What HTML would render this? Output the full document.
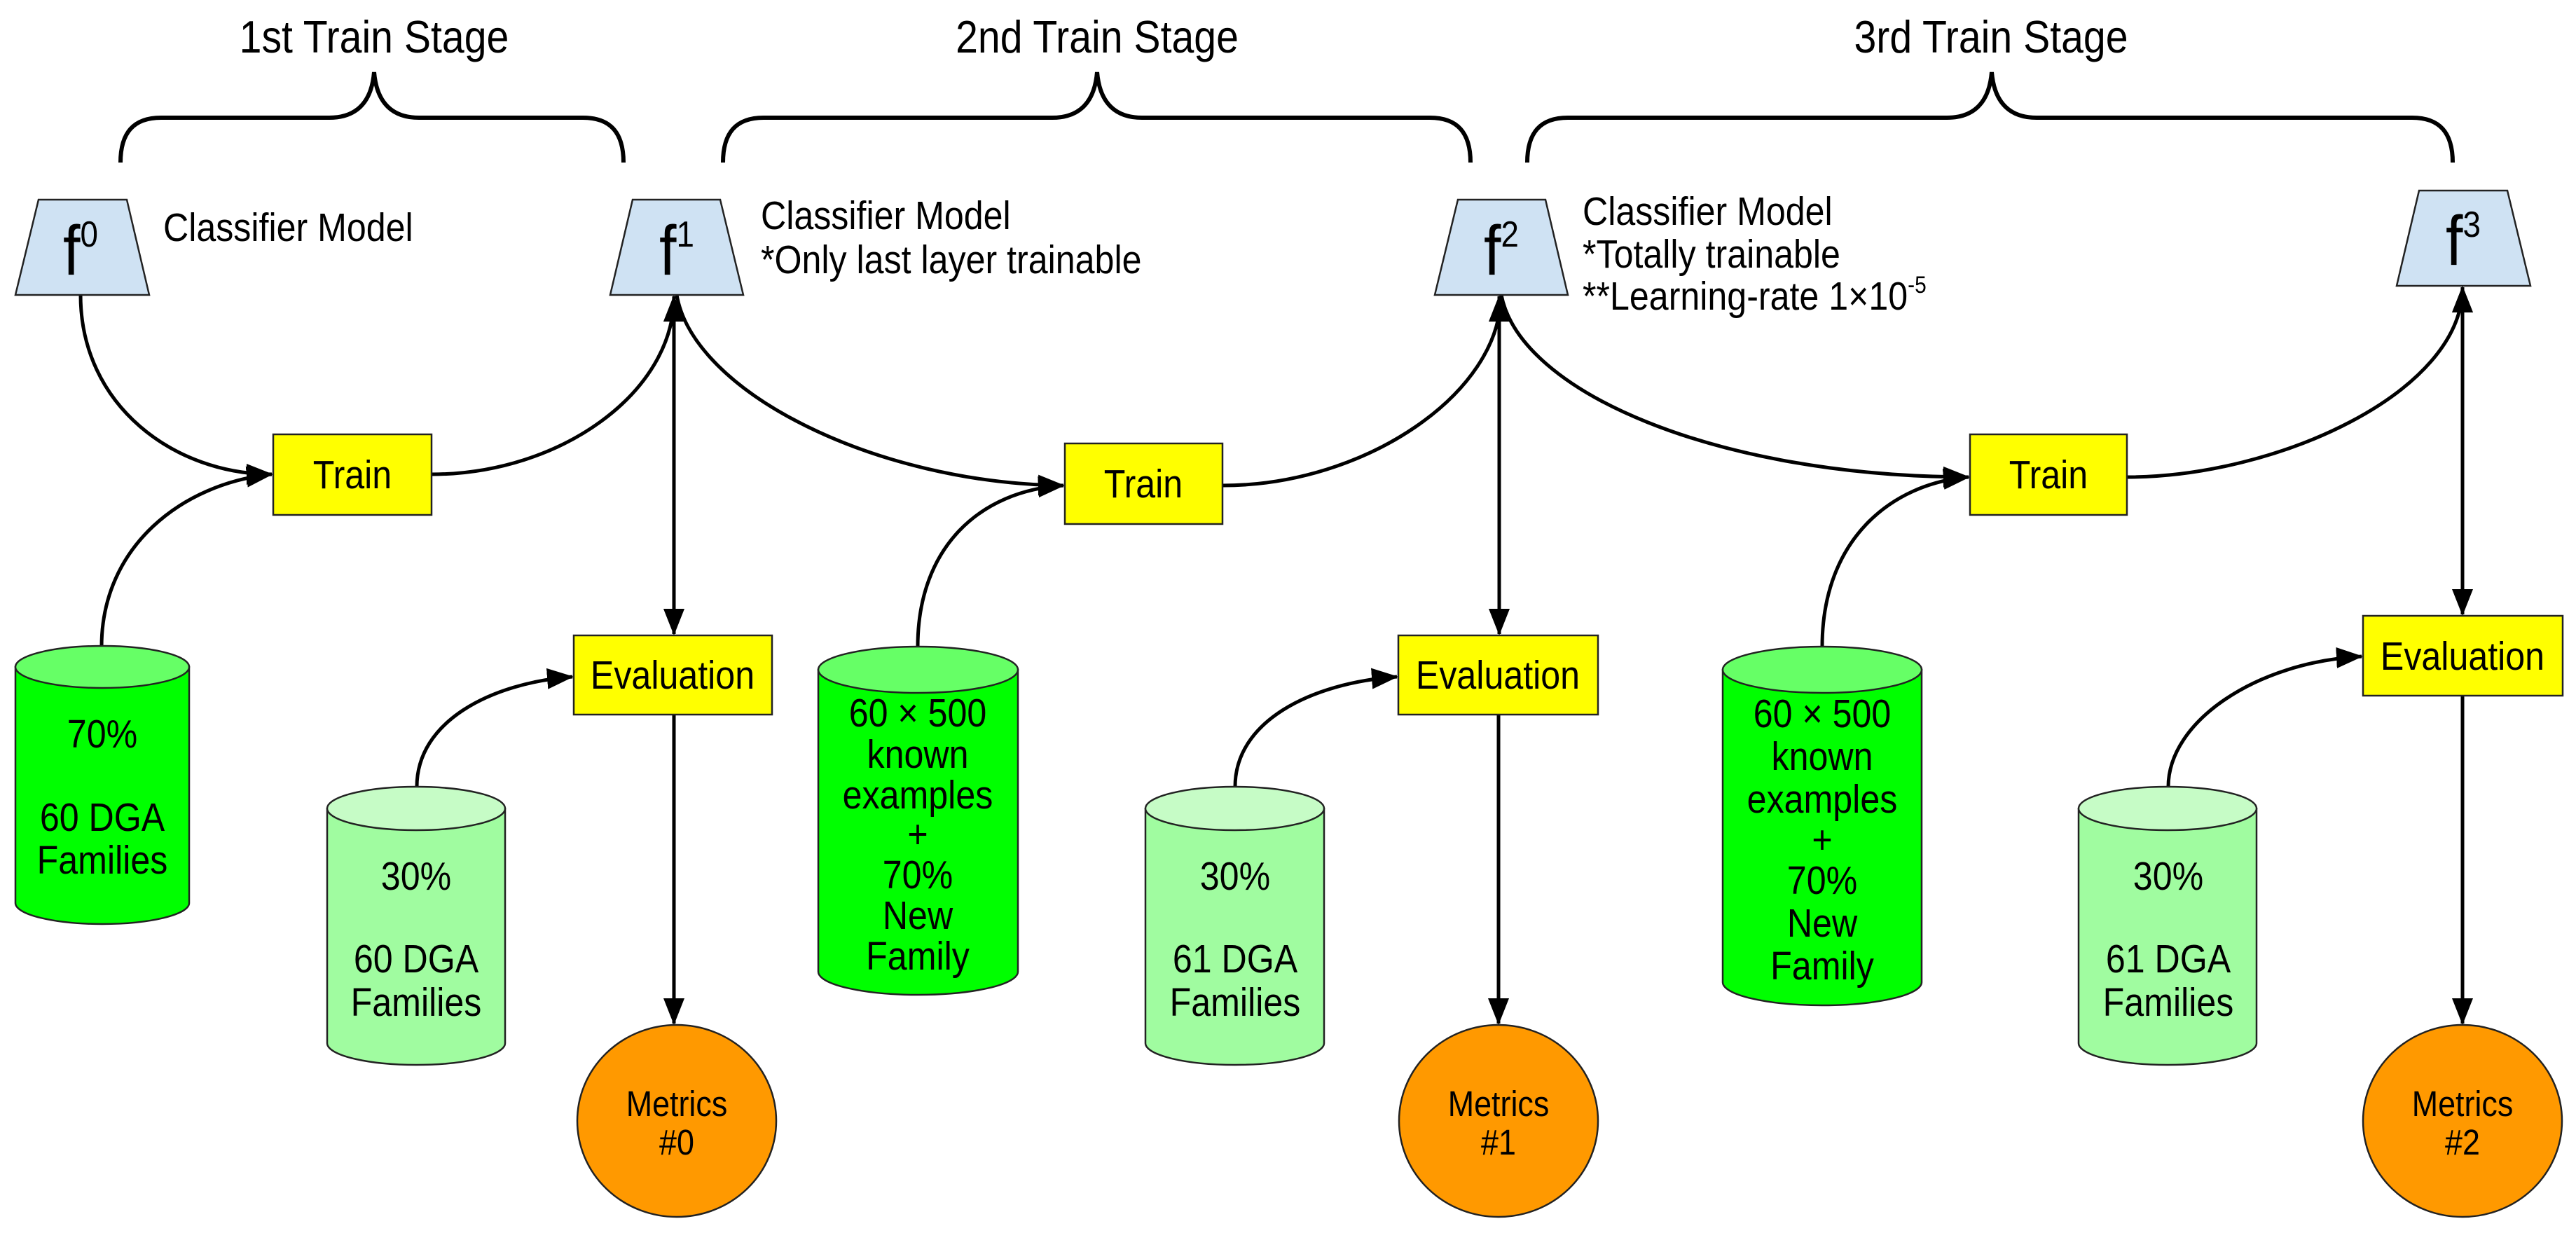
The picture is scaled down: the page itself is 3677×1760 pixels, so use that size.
<!DOCTYPE html>
<html><head><meta charset="utf-8"><style>
html,body{margin:0;padding:0;background:#fff}
svg{display:block}
text{font-family:"Liberation Sans",Arial,sans-serif;fill:#000;transform-box:fill-box}
.c text{transform-origin:center;transform:scaleX(0.88)}
.l text{transform-origin:left;transform:scaleX(0.88)}
</style></head><body>
<svg width="3677" height="1760" viewBox="0 0 3677 1760" xmlns="http://www.w3.org/2000/svg">
<defs>
<marker id="ah" markerUnits="userSpaceOnUse" markerWidth="40" markerHeight="30" refX="36" refY="15" orient="auto-start-reverse">
<path d="M0,0 L38,15 L0,30 Z" fill="#000"/>
</marker>
</defs>
<g fill="none" stroke="#000" stroke-width="6">
<path d="M172,232 C172,190 190,168 230,168 L470,168 C505,168 530,150 534,103 C538,150 563,168 598,168 L832,168 C872,168 890,190 890,232"/>
<path d="M1032,232 C1032,190 1050,168 1090,168 L1502,168 C1537,168 1562,150 1566,103 C1570,150 1595,168 1630,168 L2041,168 C2081,168 2099,190 2099,232"/>
<path d="M2180,232 C2180,190 2198,168 2238,168 L2779,168 C2814,168 2839,150 2843,103 C2847,150 2872,168 2907,168 L3443,168 C3483,168 3501,190 3501,232"/>
</g>
<g fill="none" stroke="#000" stroke-width="5">
<path d="M115,421 C115,580 250,677 388,677" marker-end="url(#ah)"/>
<path d="M616,677 C800,677 962,560 962,423" marker-end="url(#ah)"/>
<path d="M145,923 C145,780 260,690 388,677" marker-end="url(#ah)"/>
<path d="M962,423 L962,905" marker-start="url(#ah)" marker-end="url(#ah)"/>
<path d="M595,1123 C595,1030 700,975 817,966" marker-end="url(#ah)"/>
<path d="M962,1020 L962,1461" marker-end="url(#ah)"/>

<path d="M966,421 C990,560 1250,690 1518,693" marker-end="url(#ah)"/>
<path d="M1745,693 C1950,693 2142,560 2142,423" marker-end="url(#ah)"/>
<path d="M1310,923 C1310,780 1400,700 1518,693" marker-end="url(#ah)"/>
<path d="M2140,423 L2140,905" marker-start="url(#ah)" marker-end="url(#ah)"/>
<path d="M1763,1123 C1763,1030 1870,975 1994,966" marker-end="url(#ah)"/>
<path d="M2139,1020 L2139,1461" marker-end="url(#ah)"/>

<path d="M2143,421 C2170,560 2450,680 2810,681" marker-end="url(#ah)"/>
<path d="M3036,681 C3250,681 3515,560 3515,410" marker-end="url(#ah)"/>
<path d="M2601,923 C2601,770 2700,690 2810,681" marker-end="url(#ah)"/>
<path d="M3515,410 L3515,877" marker-start="url(#ah)" marker-end="url(#ah)"/>
<path d="M3095,1123 C3095,1030 3220,945 3371,937" marker-end="url(#ah)"/>
<path d="M3515,993 L3515,1461" marker-end="url(#ah)"/>
</g>

<g stroke="#222" stroke-width="2.5">
<polygon points="55,285 181,285 213,421 22,421" fill="#cfe2f3"/>
<polygon points="903,285 1028,285 1061,421 871,421" fill="#cfe2f3"/>
<polygon points="2081,285 2206,285 2238,421 2048,421" fill="#cfe2f3"/>
<polygon points="3453,272 3579,272 3612,408 3421,408" fill="#cfe2f3"/>
<rect x="390" y="620" width="226" height="115" fill="#ffff00"/>
<rect x="1520" y="633" width="225" height="115" fill="#ffff00"/>
<rect x="2812" y="620" width="224" height="115" fill="#ffff00"/>
<rect x="819" y="907" width="283" height="113" fill="#ffff00"/>
<rect x="1996" y="907" width="285" height="113" fill="#ffff00"/>
<rect x="3373" y="879" width="285" height="114" fill="#ffff00"/>
<ellipse cx="966" cy="1600" rx="142" ry="137" fill="#ff9900"/>
<ellipse cx="2139" cy="1600" rx="142" ry="137" fill="#ff9900"/>
<ellipse cx="3515" cy="1600" rx="142" ry="137" fill="#ff9900"/>
<path d="M22,952 L22,1289 A124,30 0 0 0 270,1289 L270,952 Z" fill="#00ff00"/>
<ellipse cx="146" cy="952" rx="124" ry="30" fill="#66ff66"/>
<path d="M1168,956 L1168,1387 A142.5,33 0 0 0 1453,1387 L1453,956 Z" fill="#00ff00"/>
<ellipse cx="1310.5" cy="956" rx="142.5" ry="33" fill="#66ff66"/>
<path d="M2459,956 L2459,1402 A142,33 0 0 0 2743,1402 L2743,956 Z" fill="#00ff00"/>
<ellipse cx="2601" cy="956" rx="142" ry="33" fill="#66ff66"/>

<path d="M467,1154 L467,1489 A127,31 0 0 0 721,1489 L721,1154 Z" fill="#a0fca0"/>
<ellipse cx="594" cy="1154" rx="127" ry="31" fill="#c6fcc6"/>
<path d="M1635,1154 L1635,1489 A127.5,31 0 0 0 1890,1489 L1890,1154 Z" fill="#a0fca0"/>
<ellipse cx="1762.5" cy="1154" rx="127.5" ry="31" fill="#c6fcc6"/>
<path d="M2967,1154 L2967,1489 A127,31 0 0 0 3221,1489 L3221,1154 Z" fill="#a0fca0"/>
<ellipse cx="3094" cy="1154" rx="127" ry="31" fill="#c6fcc6"/>
</g>

<g class="c" font-size="65" text-anchor="middle">
<text x="534" y="75">1st Train Stage</text>
<text x="1566" y="75">2nd Train Stage</text>
<text x="2842" y="75">3rd Train Stage</text>
</g>
<g class="c" font-size="100" text-anchor="middle">
<text x="115" y="392">f<tspan font-size="52" dy="-40">0</tspan></text>
<text x="966" y="392">f<tspan font-size="52" dy="-40">1</tspan></text>
<text x="2143" y="392">f<tspan font-size="52" dy="-40">2</tspan></text>
<text x="3516" y="378">f<tspan font-size="52" dy="-40">3</tspan></text>
</g>
<g class="l" font-size="57">
<text x="233" y="344">Classifier Model</text>
<text x="1086" y="327">Classifier Model</text>
<text x="1086" y="390">*Only last layer trainable</text>
<text x="2259" y="321">Classifier Model</text>
<text x="2259" y="382">*Totally trainable</text>
<text x="2259" y="442">**Learning-rate 1×10<tspan font-size="34" dy="-24">-5</tspan></text>
</g>
<g class="c" font-size="57" text-anchor="middle">
<text x="503" y="697">Train</text>
<text x="1632" y="710">Train</text>
<text x="2924" y="697">Train</text>
<text x="960" y="983">Evaluation</text>
<text x="2138" y="983">Evaluation</text>
<text x="3515" y="956">Evaluation</text>

<text x="146" y="1067">70%</text>
<text x="146" y="1186">60 DGA</text>
<text x="146" y="1247">Families</text>

<text x="594" y="1270">30%</text>
<text x="594" y="1388">60 DGA</text>
<text x="594" y="1450">Families</text>
<text x="1763" y="1270">30%</text>
<text x="1763" y="1388">61 DGA</text>
<text x="1763" y="1450">Families</text>
<text x="3095" y="1270">30%</text>
<text x="3095" y="1388">61 DGA</text>
<text x="3095" y="1450">Families</text>

<text x="1310" y="1037">60 × 500</text>
<text x="1310" y="1096">known</text>
<text x="1310" y="1154">examples</text>
<text x="1310" y="1210">+</text>
<text x="1310" y="1268">70%</text>
<text x="1310" y="1326">New</text>
<text x="1310" y="1384">Family</text>

<text x="2601" y="1038">60 × 500</text>
<text x="2601" y="1099">known</text>
<text x="2601" y="1160">examples</text>
<text x="2601" y="1218">+</text>
<text x="2601" y="1276">70%</text>
<text x="2601" y="1337">New</text>
<text x="2601" y="1398">Family</text>
</g>
<g class="c" font-size="51" text-anchor="middle">
<text x="966" y="1593">Metrics</text>
<text x="966" y="1648">#0</text>
<text x="2139" y="1593">Metrics</text>
<text x="2139" y="1648">#1</text>
<text x="3515" y="1593">Metrics</text>
<text x="3515" y="1648">#2</text>
</g>
</svg>
</body></html>
